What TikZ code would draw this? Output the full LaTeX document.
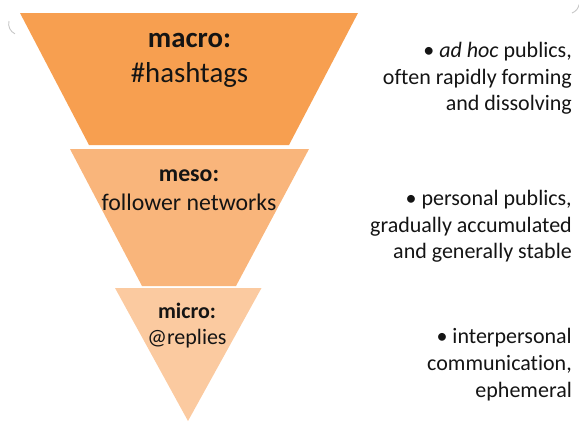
\documentclass[tikz,border=0pt]{standalone}
\usepackage{fontspec}
\setmainfont{Carlito}[Ligatures=NoCommon]
\definecolor{macroc}{RGB}{247,159,80}
\definecolor{mesoc}{RGB}{249,181,123}
\definecolor{microc}{RGB}{251,202,160}
\definecolor{txt}{RGB}{20,20,20}
\begin{document}
\begin{tikzpicture}[x=1pt,y=-1pt,
  lvl/.style={inner sep=0pt,anchor=base,text=txt},
  desc/.style={inner sep=0pt,anchor=base east,text=txt,font=\fontsize{22}{26}\selectfont},
  cornerarc/.style={draw=black!22,line width=0.9pt}]
\useasboundingbox (0,0) rectangle (579,421);
% funnel
\fill[macroc] (20,13) -- (358,13) -- (289,145) -- (89,145) -- cycle;
\fill[mesoc] (70,149) -- (309,149) -- (236,286) -- (142,286) -- cycle;
\fill[microc] (115,288) -- (261.5,288) -- (188,421) -- cycle;
% faint corners
\draw[cornerarc] (9,21) arc[start angle=195,end angle=115,radius=11];
\draw[cornerarc] (572,13) arc[start angle=70,end angle=10,radius=11];
% labels
\node[lvl,font=\bfseries\fontsize{28.8}{33}\selectfont] (macroA) at (189.5,47) {macro:};
\node[lvl,font=\fontsize{28.8}{33}\selectfont] (macroB) at (189.5,82) {\#hashtags};
\node[lvl,font=\bfseries\fontsize{23.8}{28}\selectfont] (mesoA) at (189,181) {meso:};
\node[lvl,font=\fontsize{23.8}{28}\selectfont] (mesoB) at (189,210) {follower networks};
\node[lvl,font=\bfseries\fontsize{22}{26}\selectfont] (microA) at (187,318) {micro:};
\node[lvl,font=\fontsize{22}{26}\selectfont] (microB) at (187,344) {@replies};
% descriptions
\node[desc] (d1a) at (572,57.5) {• \textit{ad hoc} publics,};
\node[desc] (d1b) at (572,84) {often rapidly forming};
\node[desc] (d1c) at (572,110.5) {and dissolving};
\node[desc] (d2a) at (572,205) {• personal publics,};
\node[desc] (d2b) at (572,232) {gradually accumulated};
\node[desc] (d2c) at (572,258.5) {and generally stable};
\node[desc] (d3a) at (572,343) {• interpersonal};
\node[desc] (d3b) at (572,370) {communication,};
\node[desc] (d3c) at (572,397) {ephemeral};
\end{tikzpicture}
\end{document}
